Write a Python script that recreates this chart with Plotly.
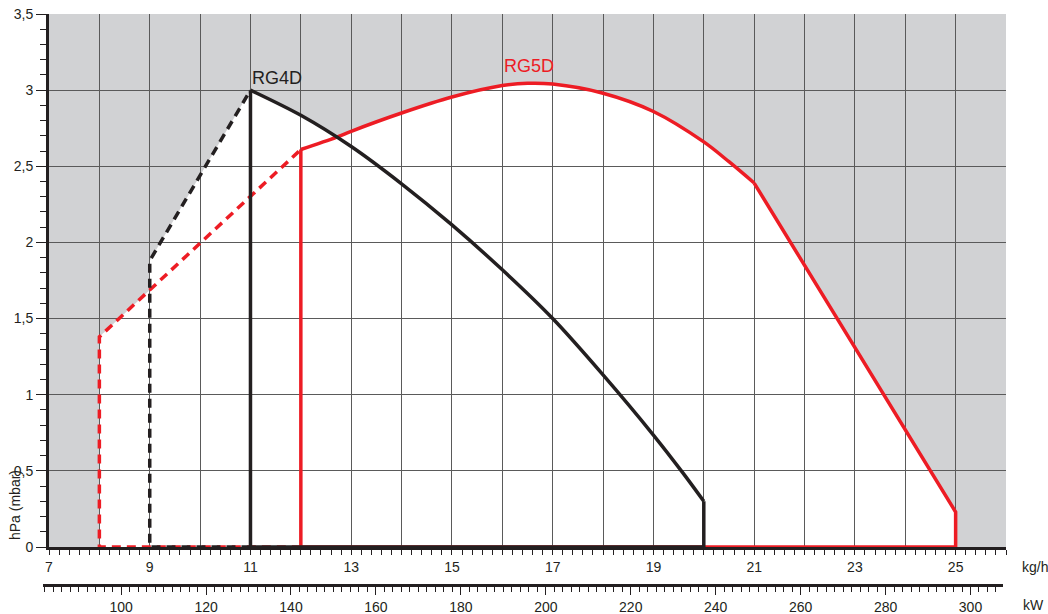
import numpy as np
import plotly.graph_objects as go

# ---------------- data ----------------
# RG4D solid working curve (kg/h, hPa)
rg4d_kgh = [11, 12, 13, 14, 15, 16, 17, 18, 19, 19.6, 20]
rg4d_hpa = [3.0, 2.835, 2.63, 2.385, 2.115, 1.82, 1.50, 1.13, 0.735, 0.48, 0.30]
# RG4D dashed start-up part
rg4d_dash_kgh = [9, 9, 11]
rg4d_dash_hpa = [0, 1.88, 3.0]

# RG5D solid working curve (smooth part, then straight end segment)
rg5d_kgh = [12, 12.7, 13, 14, 15, 16, 16.5, 17, 18, 19, 20, 20.5, 21]
rg5d_hpa = [2.61, 2.69, 2.73, 2.85, 2.955, 3.03, 3.045, 3.04, 2.98, 2.86, 2.66, 2.53, 2.39]
rg5d_end_kgh = [21, 25]
rg5d_end_hpa = [2.39, 0.23]
# RG5D dashed start-up part
rg5d_dash_kgh = [8, 8, 12]
rg5d_dash_hpa = [0, 1.38, 2.61]

# axes
kgh_ticks = list(range(7, 27))
kgh_labels = [str(v) if v % 2 == 1 else "" for v in kgh_ticks]
hpa_ticks = [0, 0.5, 1, 1.5, 2, 2.5, 3, 3.5]
hpa_labels = ["0", "0,5", "1", "1,5", "2", "2,5", "3", "3,5"]
kw_ticks = list(range(100, 301, 20))
kw_labels = [str(v) for v in kw_ticks]
KW_PER_KGH = 11.86

RED = "#ed1c24"
BLACK = "#231f20"
GRAY = "#d1d2d4"
GRID = "#5a5a5a"
FONT = "Liberation Sans, Arial, sans-serif"
LW = 3.5

# ---------------- geometry ----------------
W, H = 1048, 614
ML, MR, MT, MB = 40, 42, 14, 0
PW, PH = W - ML - MR, H - MT - MB


def px_x(px):
    return (px - ML) / PW


def px_y(py):
    return (H - MB - py) / PH


x_left_px, x_right_px = 49, W - MR
y_bottom_px = 547
kw_left_px, kw_right_px, kw_y_px = 43, 1003, 585
px_per_kgh = (x_right_px - x_left_px) / (26 - 7)
kw_range = [(7 - (x_left_px - kw_left_px) / px_per_kgh) * KW_PER_KGH,
            (26 - (x_right_px - kw_right_px) / px_per_kgh) * KW_PER_KGH]

# ---------------- envelope for white region ----------------
grid = np.round(np.arange(8, 25.0001, 0.01), 4)


def upper(gx, xs, ys):
    out = np.full_like(gx, -np.inf, dtype=float)
    m = (gx >= xs[0]) & (gx <= xs[-1])
    out[m] = np.interp(gx[m], xs, ys)
    return out


env = np.maximum.reduce([
    upper(grid, rg5d_dash_kgh[1:], rg5d_dash_hpa[1:]),
    upper(grid, rg5d_kgh + rg5d_end_kgh[1:], rg5d_hpa + rg5d_end_hpa[1:]),
    upper(grid, rg4d_dash_kgh[1:], rg4d_dash_hpa[1:]),
    upper(grid, rg4d_kgh, rg4d_hpa),
])
path = "M {},0 ".format(grid[0]) + " ".join("L {},{}".format(a, b) for a, b in zip(grid, env)) \
    + " L {},0 Z".format(grid[-1])

fig = go.Figure()


def add_line(x, y, color, dash=None, shape="linear"):
    fig.add_trace(go.Scatter(
        x=x, y=y, mode="lines",
        line=dict(color=color, width=LW, dash=dash, shape=shape, smoothing=0.9),
        hoverinfo="skip", showlegend=False))


DASH = "9px,6px"
# RG5D
add_line([rg5d_dash_kgh[-1], rg5d_dash_kgh[0]] + rg5d_dash_kgh, [0, 0] + rg5d_dash_hpa, RED, DASH)
add_line([rg5d_kgh[0], rg5d_kgh[0]], [rg5d_hpa[0], 0], RED)
add_line([rg5d_kgh[0], rg5d_end_kgh[-1]] + rg5d_end_kgh[::-1],
         [0, 0] + rg5d_end_hpa[::-1], RED)
add_line(rg5d_kgh, rg5d_hpa, RED, shape="spline")
# RG4D
add_line([rg4d_dash_kgh[-1], rg4d_dash_kgh[0]] + rg4d_dash_kgh, [0, 0] + rg4d_dash_hpa, BLACK, DASH)
add_line([rg4d_kgh[0], rg4d_kgh[0], rg4d_kgh[-1], rg4d_kgh[-1]],
         [rg4d_hpa[0], 0, 0, rg4d_hpa[-1]], BLACK)
add_line(rg4d_kgh, rg4d_hpa, BLACK, shape="spline")

# invisible trace carrying the kW axis
fig.add_trace(go.Scatter(x=kw_range, y=[0, 1], xaxis="x2", yaxis="y2", mode="markers",
                         marker=dict(opacity=0), hoverinfo="skip", showlegend=False))

fig.add_shape(type="rect", xref="x", yref="y", x0=7, x1=26, y0=0, y1=3.5,
              fillcolor=GRAY, line=dict(width=0), layer="below")
fig.add_shape(type="path", xref="x", yref="y", path=path,
              fillcolor="white", line=dict(width=0), layer="below")

tickfont = dict(family=FONT, size=14, color=BLACK)

fig.update_layout(
    template="none",
    width=W, height=H,
    margin=dict(l=ML, r=MR, t=MT, b=MB, pad=0),
    paper_bgcolor="white", plot_bgcolor="white",
    showlegend=False,
    xaxis=dict(
        domain=[px_x(x_left_px), 1], range=[7, 26], anchor="y",
        tickmode="array", tickvals=kgh_ticks, ticktext=kgh_labels,
        ticks="outside", ticklen=5, tickwidth=1, tickcolor=BLACK,
        showgrid=True, gridcolor=GRID, gridwidth=1, zeroline=False,
        showline=True, linecolor=BLACK, linewidth=3,
        minor=dict(dtick=0.2, tick0=7, ticks="outside", ticklen=5, tickcolor=BLACK,
                   tickwidth=1, showgrid=False),
        tickfont=tickfont, automargin=False, fixedrange=True,
    ),
    yaxis=dict(
        domain=[px_y(y_bottom_px), 1], range=[0, 3.5], anchor="x",
        tickmode="array", tickvals=hpa_ticks, ticktext=hpa_labels,
        ticks="outside", ticklen=10, tickwidth=1, tickcolor=BLACK,
        showgrid=True, gridcolor=GRID, gridwidth=1, zeroline=False,
        showline=True, linecolor=BLACK, linewidth=3,
        minor=dict(dtick=0.1, tick0=0, ticks="outside", ticklen=6, tickcolor=BLACK,
                   tickwidth=1, showgrid=False),
        tickfont=tickfont, automargin=False, fixedrange=True,
    ),
    xaxis2=dict(
        domain=[px_x(kw_left_px), px_x(kw_right_px)], range=kw_range,
        anchor="free", position=px_y(kw_y_px), side="bottom",
        tickmode="array", tickvals=kw_ticks, ticktext=kw_labels,
        ticks="outside", ticklen=8, tickwidth=1, tickcolor=BLACK,
        showgrid=False, zeroline=False,
        showline=True, linecolor=BLACK, linewidth=3,
        minor=dict(dtick=2, tick0=100, ticks="outside", ticklen=5, tickcolor=BLACK,
                   tickwidth=1, showgrid=False),
        tickfont=tickfont, automargin=False, fixedrange=True,
    ),
    yaxis2=dict(domain=[0, 0.02], anchor="x2", visible=False, range=[0, 1], fixedrange=True),
    annotations=[
        dict(text="RG4D", x=11, y=3.0, xref="x", yref="y", xanchor="left", yanchor="bottom",
             yshift=0, showarrow=False, font=dict(family=FONT, size=18, color=BLACK)),
        dict(text="RG5D", x=16.0, y=3.08, xref="x", yref="y", xanchor="left", yanchor="bottom",
             showarrow=False, font=dict(family=FONT, size=18, color=RED)),
        dict(text="kg/h", x=px_x(1020), y=px_y(567), xref="paper", yref="paper",
             xanchor="left", yanchor="middle", showarrow=False, font=tickfont),
        dict(text="kW", x=px_x(1021), y=px_y(605), xref="paper", yref="paper",
             xanchor="left", yanchor="middle", showarrow=False, font=tickfont),
        dict(text="hPa (mbar)", x=px_x(15), y=px_y(505), xref="paper", yref="paper",
             xanchor="center", yanchor="middle", textangle=-90, showarrow=False, font=tickfont),
    ],
)

fig.write_html("out.html", config={"displayModeBar": False},
               post_script="document.body.style.margin='0';document.body.style.overflow='hidden';")
